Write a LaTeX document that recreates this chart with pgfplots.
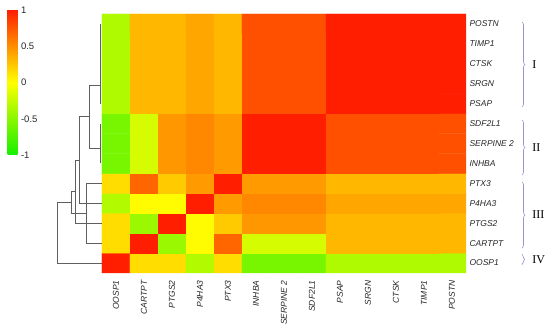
\documentclass[border=0pt]{standalone}
\usepackage{fontspec}
\setmainfont{Liberation Sans}
\newfontfamily\romanfont{Liberation Serif}
\usepackage{pgfplots}
\pgfplotsset{compat=1.18}
\usetikzlibrary{decorations.pathreplacing,calc}
\definecolor{dendro}{RGB}{95,95,95}
\definecolor{brk}{RGB}{150,150,205}
\begin{document}
\begin{tikzpicture}
\path (-102pt,-53pt) rectangle (448pt,273pt);
\begin{axis}[
  at={(0pt,0pt)}, anchor=south west,
  scale only axis, width=364pt, height=259pt,
  xmin=-0.5, xmax=12.5, ymin=-0.5, ymax=12.5,
  clip=false, axis line style={draw=none},
  colormap={gyr}{rgb255(0cm)=(20,240,0); rgb255(1cm)=(255,255,0); rgb255(2cm)=(255,30,0)},
  point meta min=-1, point meta max=1,
  xtick={0,...,12}, ytick={0,...,12},
  xticklabels={OOSP1,CARTPT,PTGS2,P4HA3,PTX3,INHBA,SERPINE 2,SDF2L1,PSAP,SRGN,CTSK,TIMP1,POSTN},
  yticklabels={OOSP1,CARTPT,PTGS2,P4HA3,PTX3,INHBA,SERPINE 2,SDF2L1,PSAP,SRGN,CTSK,TIMP1,POSTN},
  yticklabel pos=right,
  major tick length=0pt,
  tick style={draw=none},
  xticklabel style={rotate=90, anchor=east, font=\fontsize{8.5}{9}\selectfont\itshape, text=black!85},
  yticklabel style={anchor=west, font=\fontsize{8.5}{9}\selectfont\itshape, text=black!85},
  xticklabel shift=4pt,
  yticklabel shift=0pt,
  colorbar,
  colorbar style={
    at={($(parent axis.north west)+(-103pt,4pt)$)}, anchor=north west,
    scale only axis, width=10pt, height=145pt,
    axis line style={draw=none}, tick style={draw=none}, major tick length=0pt,
    ytick={-1,-0.5,0,0.5,1}, yticklabels={-1,-0.5,0,0.5,1},
    yticklabel pos=right,
    yticklabel style={font=\fontsize{9.5}{10}\selectfont, text=black!85},
  },
]
\addplot[matrix plot*, mesh/cols=13, point meta=explicit] table[row sep=\\, meta=z] {
x y z\\
0 0 1\\ 1 0 0.15\\ 2 0 0.15\\ 3 0 -0.33\\ 4 0 0.15\\ 5 0 -0.58\\ 6 0 -0.58\\ 7 0 -0.58\\ 8 0 -0.34\\ 9 0 -0.34\\ 10 0 -0.34\\ 11 0 -0.34\\ 12 0 -0.34\\
0 1 0.15\\ 1 1 1\\ 2 1 -0.43\\ 3 1 0.02\\ 4 1 0.68\\ 5 1 -0.18\\ 6 1 -0.18\\ 7 1 -0.18\\ 8 1 0.32\\ 9 1 0.32\\ 10 1 0.32\\ 11 1 0.32\\ 12 1 0.32\\
0 2 0.15\\ 1 2 -0.43\\ 2 2 1\\ 3 2 0.02\\ 4 2 0.23\\ 5 2 0.46\\ 6 2 0.46\\ 7 2 0.46\\ 8 2 0.32\\ 9 2 0.32\\ 10 2 0.32\\ 11 2 0.32\\ 12 2 0.32\\
0 3 -0.33\\ 1 3 0.02\\ 2 3 0.02\\ 3 3 1\\ 4 3 0.45\\ 5 3 0.53\\ 6 3 0.53\\ 7 3 0.53\\ 8 3 0.39\\ 9 3 0.39\\ 10 3 0.39\\ 11 3 0.39\\ 12 3 0.39\\
0 4 0.15\\ 1 4 0.68\\ 2 4 0.23\\ 3 4 0.45\\ 4 4 1\\ 5 4 0.45\\ 6 4 0.45\\ 7 4 0.45\\ 8 4 0.32\\ 9 4 0.32\\ 10 4 0.32\\ 11 4 0.32\\ 12 4 0.32\\
0 5 -0.58\\ 1 5 -0.18\\ 2 5 0.46\\ 3 5 0.53\\ 4 5 0.45\\ 5 5 1\\ 6 5 1\\ 7 5 1\\ 8 5 0.78\\ 9 5 0.78\\ 10 5 0.78\\ 11 5 0.78\\ 12 5 0.78\\
0 6 -0.58\\ 1 6 -0.18\\ 2 6 0.46\\ 3 6 0.53\\ 4 6 0.45\\ 5 6 1\\ 6 6 1\\ 7 6 1\\ 8 6 0.78\\ 9 6 0.78\\ 10 6 0.78\\ 11 6 0.78\\ 12 6 0.78\\
0 7 -0.58\\ 1 7 -0.18\\ 2 7 0.46\\ 3 7 0.53\\ 4 7 0.45\\ 5 7 1\\ 6 7 1\\ 7 7 1\\ 8 7 0.78\\ 9 7 0.78\\ 10 7 0.78\\ 11 7 0.78\\ 12 7 0.78\\
0 8 -0.34\\ 1 8 0.32\\ 2 8 0.32\\ 3 8 0.39\\ 4 8 0.32\\ 5 8 0.78\\ 6 8 0.78\\ 7 8 0.78\\ 8 8 1\\ 9 8 1\\ 10 8 1\\ 11 8 1\\ 12 8 1\\
0 9 -0.34\\ 1 9 0.32\\ 2 9 0.32\\ 3 9 0.39\\ 4 9 0.32\\ 5 9 0.78\\ 6 9 0.78\\ 7 9 0.78\\ 8 9 1\\ 9 9 1\\ 10 9 1\\ 11 9 1\\ 12 9 1\\
0 10 -0.34\\ 1 10 0.32\\ 2 10 0.32\\ 3 10 0.39\\ 4 10 0.32\\ 5 10 0.78\\ 6 10 0.78\\ 7 10 0.78\\ 8 10 1\\ 9 10 1\\ 10 10 1\\ 11 10 1\\ 12 10 1\\
0 11 -0.34\\ 1 11 0.32\\ 2 11 0.32\\ 3 11 0.39\\ 4 11 0.32\\ 5 11 0.78\\ 6 11 0.78\\ 7 11 0.78\\ 8 11 1\\ 9 11 1\\ 10 11 1\\ 11 11 1\\ 12 11 1\\
0 12 -0.34\\ 1 12 0.32\\ 2 12 0.32\\ 3 12 0.39\\ 4 12 0.32\\ 5 12 0.78\\ 6 12 0.78\\ 7 12 0.78\\ 8 12 1\\ 9 12 1\\ 10 12 1\\ 11 12 1\\ 12 12 1\\
};
% dendrogram
\addplot[dendro, line width=0.8pt, no markers] coordinates {(-0.54,8) (-0.54,12)};
\addplot[dendro, line width=0.8pt, no markers] coordinates {(-0.54,5) (-0.54,7)};
\addplot[dendro, line width=0.8pt, no markers] coordinates {(-0.54,8.94) (-0.96,8.94) (-0.96,5.75) (-0.54,5.75)};
\addplot[dendro, line width=0.8pt, no markers] coordinates {(-0.96,7.345) (-1.32,7.345) (-1.32,3) (-0.5,3)};
\addplot[dendro, line width=0.8pt, no markers] coordinates {(-1.32,5.17) (-1.46,5.17) (-1.46,2) (-0.5,2)};
\addplot[dendro, line width=0.8pt, no markers] coordinates {(-0.5,4) (-1.07,4) (-1.07,1) (-0.5,1)};
\addplot[dendro, line width=0.8pt, no markers] coordinates {(-1.46,3.586) (-1.61,3.586) (-1.61,2.5) (-1.07,2.5)};
\addplot[dendro, line width=0.8pt, no markers] coordinates {(-1.61,3.04) (-2.11,3.04) (-2.11,0) (-0.5,0)};
% brackets
\draw[brk, line width=0.6pt, decorate, decoration={brace, amplitude=3pt}] (axis cs:14.5,12.1) -- (axis cs:14.5,7.83);
\draw[brk, line width=0.6pt, decorate, decoration={brace, amplitude=3pt}] (axis cs:14.5,7.18) -- (axis cs:14.5,4.42);
\draw[brk, line width=0.6pt, decorate, decoration={brace, amplitude=3pt}] (axis cs:14.5,4.07) -- (axis cs:14.5,0.75);
\draw[brk, line width=0.6pt, decorate, decoration={brace, amplitude=2.5pt}] (axis cs:14.5,0.45) -- (axis cs:14.5,-0.08);
\node[anchor=west, inner sep=0pt, font=\romanfont\fontsize{12}{12}\selectfont] at (axis cs:14.86,9.97) {I};
\node[anchor=west, inner sep=0pt, font=\romanfont\fontsize{12}{12}\selectfont] at (axis cs:14.86,5.8) {II};
\node[anchor=west, inner sep=0pt, font=\romanfont\fontsize{12}{12}\selectfont] at (axis cs:14.86,2.41) {III};
\node[anchor=west, inner sep=0pt, font=\romanfont\fontsize{12}{12}\selectfont] at (axis cs:14.86,0.19) {IV};
\end{axis}
\end{tikzpicture}
\end{document}
